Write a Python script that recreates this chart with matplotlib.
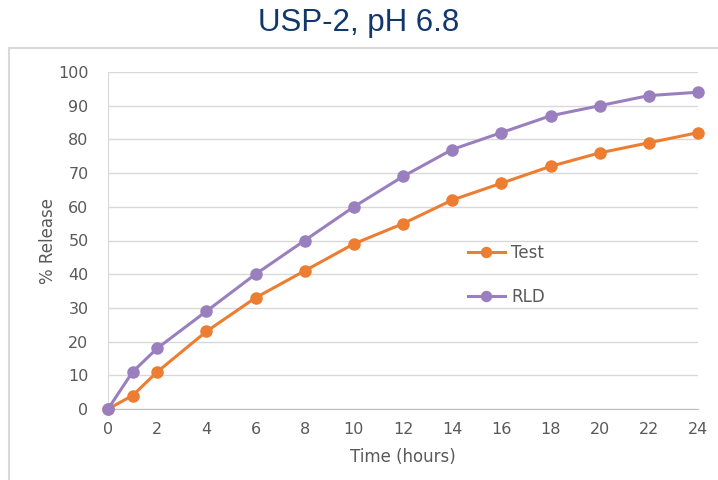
import matplotlib.pyplot as plt
from matplotlib.patches import Rectangle

# sampling times (hours) and cumulative release (%)
hours = [0, 1, 2, 4, 6, 8, 10, 12, 14, 16, 18, 20, 22, 24]
test_release = [0, 4, 11, 23, 33, 41, 49, 55, 62, 67, 72, 76, 79, 82]
rld_release = [0, 11, 18, 29, 40, 50, 60, 69, 77, 82, 87, 90, 93, 94]

x_ticks = list(range(0, 25, 2))
y_ticks = list(range(0, 101, 10))

tick_grey = "#595959"
grid_grey = "#D9D9D9"

fig = plt.figure(figsize=(7.18, 4.8), dpi=100)

# chart frame
fig.patches.append(Rectangle((9 / 718, -0.02), 1.0, (480 - 48) / 480 + 0.02,
                             transform=fig.transFigure, fill=False,
                             edgecolor=grid_grey, linewidth=1.5))

fig.text(0.5, 0.953, "USP-2, pH 6.8", ha="center", va="center",
         fontsize=22.5, color="#12386B", family="Liberation Sans")

ax = fig.add_axes([108 / 718, 71 / 480, 590 / 718, 337 / 480])

ax.plot(hours, test_release, color="#ED7D31", lw=2.2, marker="o", ms=8,
        label="Test", clip_on=False, zorder=3)
ax.plot(hours, rld_release, color="#9A7FBF", lw=2.2, marker="o", ms=8,
        label="RLD", clip_on=False, zorder=3)

ax.set_xlim(0, 24)
ax.set_ylim(0, 100)
ax.set_xticks(x_ticks)
ax.set_yticks(y_ticks)
ax.grid(axis="y", color=grid_grey, lw=1)
ax.set_axisbelow(True)

for side in ["top", "right"]:
    ax.spines[side].set_visible(False)
ax.spines["left"].set_color(grid_grey)
ax.spines["bottom"].set_color("#BFBFBF")
ax.tick_params(length=0, labelsize=11.5, labelcolor=tick_grey, pad=9)
ax.tick_params(axis="y", pad=14)

ax.set_xlabel("Time (hours)", fontsize=12, color=tick_grey, labelpad=8)
ax.set_ylabel("% Release", fontsize=12, color=tick_grey, labelpad=1)

ax.legend(loc="upper left", bbox_to_anchor=(0.585, 0.535), frameon=False,
          fontsize=12, labelcolor=tick_grey, handlelength=2.2,
          handletextpad=0.4, labelspacing=1.55, markerscale=0.9)

fig.savefig("out.png", dpi=100)
